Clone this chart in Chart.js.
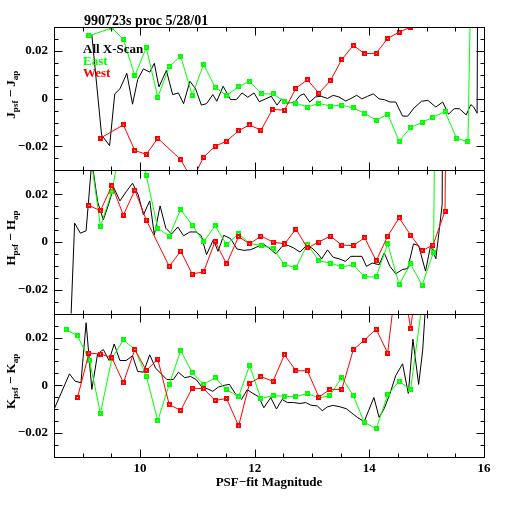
<!DOCTYPE html>
<html><head><meta charset="utf-8">
<script src="https://cdn.jsdelivr.net/npm/chart.js@4.4.1/dist/chart.umd.min.js"></script>
<style>html,body{margin:0;padding:0;background:#fff;}#wrap{width:512px;height:512px;position:relative;}</style>
</head><body><div id="wrap"><canvas id="c"></canvas></div>
<script>
// ---------- text ----------
const chartTitle = "990723s proc 5/28/01";
const seriesNames = ["All X-Scan", "East", "West"];
const xTitle = "PSF\u2212fit Magnitude";
const panelLetters = ["J", "H", "K"];
const xTickValues = [10, 12, 14, 16];
const yTickValues = [-0.02, 0, 0.02];

// ---------- J panel ----------
const jAllX = [9.16,9.33,9.47,9.56,9.65,9.77,9.87,9.96,10.06,10.17,10.25,10.33,10.46,10.57,10.67,10.76,10.87,10.97,11.07,11.16,11.27,11.34,11.45,11.58,11.68,11.78,11.88,11.99,12.08,12.19,12.29,12.39,12.47,12.57,12.70,12.79,12.86,12.96,13.06,13.16,13.27,13.37,13.47,13.59,13.68,13.78,13.87,13.97,14.07,14.17,14.26,14.36,14.46,14.58,14.67,14.78,14.91,15.02,15.16,15.28,15.38,15.48,15.57,15.69,15.77,15.82,15.88,15.93];
const jAllY = [0.0267,-0.0152,-0.0197,0.0020,0.0041,0.0106,-0.0023,0.0080,0.0125,0.0111,0.0148,0.0049,0.0118,0.0017,0.0024,-0.0021,0.0073,0.0041,-0.0027,-0.0021,0.0017,-0.0011,0.0052,-0.0004,-0.0004,0.0024,0.0006,0.0024,-0.0013,-0.0001,0.0010,-0.0027,-0.0001,-0.0018,-0.0015,0.0013,0.0020,-0.0014,0.0007,0.0010,0.0001,0.0014,0.0007,-0.0010,0.0001,0.0014,-0.0001,0.0010,0.0020,-0.0001,-0.0004,-0.0014,-0.0014,-0.0073,-0.0073,-0.0039,-0.0011,-0.0007,-0.0035,-0.0014,-0.0065,-0.0042,-0.0042,-0.0068,-0.0025,-0.0035,-0.0061,0.3];
const jEastX = [9.11,9.51,9.71,9.91,10.11,10.31,10.51,10.71,10.91,11.11,11.31,11.51,11.72,11.91,12.12,12.32,12.52,12.72,12.92,13.12,13.32,13.52,13.72,13.92,14.12,14.32,14.52,14.72,14.92,15.11,15.32,15.52,15.72,15.92];
const jEastY = [0.0263,0.0296,0.0248,0.0096,0.0213,0.0006,0.0134,0.0178,0.0014,0.0144,0.0048,0.0013,0.0051,0.0072,0.0020,0.0020,-0.0013,-0.0019,-0.0035,-0.0020,-0.0031,-0.0027,-0.0039,-0.0062,-0.0090,-0.0065,-0.0178,-0.0121,-0.0099,-0.0078,-0.0054,-0.0165,-0.0181,0.25];
const jWestX = [9.31,9.71,9.91,10.11,10.31,10.71,10.91,11.11,11.31,11.51,11.72,11.91,12.11,12.31,12.52,12.72,12.92,13.12,13.32,13.52,13.72,13.92,14.12,14.32,14.52,14.72,14.92];
const jWestY = [-0.0165,-0.0110,-0.0217,-0.0233,-0.0166,-0.0255,-0.0340,-0.0245,-0.0199,-0.0178,-0.0134,-0.0110,-0.0132,-0.0045,-0.0048,0.0044,0.0079,0.0023,0.0075,0.0164,0.0223,0.0188,0.0190,0.0252,0.0279,0.0299,0.0340];

// ---------- H panel ----------
const hAllX = [8.75,8.86,8.96,9.06,9.16,9.26,9.36,9.45,9.54,9.65,9.76,9.87,9.97,10.06,10.17,10.25,10.35,10.45,10.55,10.66,10.76,10.87,10.98,11.07,11.16,11.28,11.36,11.46,11.58,11.69,11.81,11.93,12.03,12.14,12.25,12.37,12.48,12.59,12.68,12.79,12.89,13.00,13.09,13.17,13.27,13.37,13.47,13.58,13.68,13.78,13.87,13.95,14.05,14.17,14.26,14.36,14.46,14.58,14.67,14.77,14.86,14.98,15.07,15.16,15.22,15.27,15.32];
const hAllY = [-0.06,0.0079,0.0037,0.0047,0.034,0.0169,0.0093,0.0156,0.0229,0.0172,0.0211,0.0246,0.0197,0.0114,0.0172,0.0030,0.0151,0.0058,0.0033,0.0063,0.0026,0.0042,0.0042,0.0026,-0.0053,0.0010,-0.0039,0.0028,0.0014,-0.0029,-0.0035,-0.0032,-0.0022,-0.0007,-0.0025,-0.0050,-0.0018,-0.0015,-0.0025,-0.0042,-0.0018,-0.0025,-0.0046,-0.0070,-0.0033,-0.0064,-0.0070,-0.0081,-0.0060,-0.0060,-0.0060,-0.0102,-0.0088,-0.0095,-0.0046,-0.0102,-0.0133,-0.0115,-0.0111,-0.0008,-0.0015,-0.0122,-0.0014,-0.0070,0.0051,0.0156,0.3];
const hEastX = [9.11,9.31,9.51,9.71,9.91,10.11,10.31,10.51,10.71,10.91,11.11,11.31,11.51,11.72,11.91,12.12,12.32,12.52,12.72,12.92,13.12,13.32,13.52,13.72,13.92,14.12,14.32,14.52,14.72,14.92,15.12,15.32];
const hEastY = [0.041,0.0065,0.0211,0.047,0.048,0.0278,0.0058,0.0025,0.0136,0.0071,0.0001,0.0068,-0.0011,0.0035,-0.0006,-0.0015,-0.0027,-0.0095,-0.0107,-0.0010,-0.0079,-0.0088,-0.0104,-0.0096,-0.0146,-0.0146,-0.0008,-0.0178,-0.0092,-0.0181,-0.0042,0.5];
const hWestX = [9.11,9.31,9.51,9.71,9.91,10.11,10.51,10.71,10.91,11.11,11.31,11.51,11.72,11.91,12.11,12.32,12.52,12.72,12.92,13.12,13.32,13.52,13.72,13.92,14.12,14.32,14.52,14.72,14.92,15.11,15.32,15.52];
const hWestY = [0.0153,0.0131,0.0236,0.0113,0.0217,0.0092,-0.0102,-0.0038,-0.0134,-0.0125,0.0003,-0.0092,0.0023,-0.0008,0.0025,0.0000,-0.0008,0.0054,-0.0025,0.0000,0.0025,-0.0013,-0.0015,0.0018,-0.0079,0.0025,0.0101,0.0029,-0.0036,-0.0013,0.0129,0.5];

// ---------- K panel ----------
const kAllX = [8.50,8.77,8.87,8.97,9.06,9.16,9.26,9.36,9.46,9.55,9.65,9.76,9.87,9.96,10.06,10.17,10.27,10.37,10.47,10.58,10.67,10.78,10.88,10.98,11.08,11.17,11.27,11.37,11.47,11.56,11.66,11.77,11.87,11.97,12.07,12.16,12.28,12.38,12.48,12.57,12.68,12.79,12.89,12.98,13.09,13.18,13.27,13.37,13.49,13.60,13.70,13.79,13.91,13.99,14.08,14.17,14.26,14.37,14.46,14.58,14.68,14.76,14.86,14.93,15.05];
const kAllY = [-0.0101,0.0048,0.0017,0.0011,0.0262,-0.0017,0.0131,0.0150,0.0104,0.0173,0.0104,0.0104,0.0124,0.0058,0.0055,0.0128,0.0073,0.0048,0.0024,0.0024,0.0055,0.0032,0.0037,0.0024,-0.0007,-0.0014,-0.0025,-0.0007,0.0000,0.0004,-0.0034,-0.0059,-0.0018,-0.0034,-0.0048,-0.0094,-0.0051,-0.0099,-0.0059,-0.0072,-0.0072,-0.0076,-0.0072,-0.0083,-0.0086,-0.0106,-0.0090,-0.0084,-0.0090,-0.0098,-0.0117,-0.0134,-0.0152,-0.0104,-0.0051,-0.0134,-0.0097,-0.0028,0.0041,0.0090,-0.0034,0.0193,0.0004,0.0145,0.06];
const kEastX = [8.71,8.91,9.12,9.31,9.51,9.71,9.91,10.11,10.31,10.51,10.71,10.91,11.11,11.31,11.51,11.72,11.91,12.11,12.32,12.52,12.72,12.92,13.12,13.31,13.52,13.72,13.91,14.12,14.32,14.52,14.72,14.92,15.12];
const kEastY = [0.0235,0.0207,0.0104,-0.0117,0.0113,0.0190,0.0150,0.0039,-0.0148,0.0004,0.0145,0.0053,0.0004,0.0032,-0.0018,-0.0048,0.0083,-0.0055,-0.0043,-0.0046,-0.0047,-0.0034,-0.0053,-0.0043,0.0033,-0.0043,-0.0154,-0.0182,-0.0039,0.0017,-0.0018,0.034,0.06];
const kWestX = [8.91,9.11,9.31,9.51,9.71,9.91,10.11,10.31,10.51,10.71,10.91,11.11,11.31,11.51,11.72,11.91,12.11,12.32,12.52,12.72,12.92,13.12,13.31,13.52,13.72,13.91,14.12,14.32,14.52,14.72,14.92];
const kWestY = [-0.0051,0.0135,0.0131,0.0115,0.0011,0.0150,0.0062,0.0110,-0.0081,-0.0105,-0.0012,-0.0014,-0.0063,-0.0055,-0.0170,0.0008,0.0036,0.0017,0.0128,0.0061,0.0061,-0.0050,-0.0017,-0.0017,0.0149,0.0189,0.0235,0.0135,0.055,0.0237,0.06];

// ---------- styling ----------
const FONT = "'Liberation Serif','DejaVu Serif',serif";
const colors = ["#000000", "#00ff00", "#ff0000"];

function marker(color) {
  const c = document.createElement('canvas');
  c.width = 5; c.height = 5;
  const g = c.getContext('2d');
  g.fillStyle = color; g.fillRect(0, 0, 5, 5);
  g.fillStyle = '#ffffff'; g.fillRect(2, 2, 1, 1);
  return c;
}
const pts = (xs, ys) => xs.map((x, i) => ({x: x, y: ys[i]}));

function line(label, xs, ys, axis, ci, withMarker) {
  return {
    label: label, data: pts(xs, ys), yAxisID: axis,
    borderColor: colors[ci], backgroundColor: colors[ci], borderWidth: 1,
    pointStyle: withMarker ? marker(colors[ci]) : 'circle',
    pointRadius: withMarker ? 3 : 0, tension: 0, order: 2 - ci
  };
}

const datasets = [
  line(seriesNames[0], jAllX, jAllY, 'yJ', 0, false),
  line(seriesNames[1], jEastX, jEastY, 'yJ', 1, true),
  line(seriesNames[2], jWestX, jWestY, 'yJ', 2, true),
  line(seriesNames[0], hAllX, hAllY, 'yH', 0, false),
  line(seriesNames[1], hEastX, hEastY, 'yH', 1, true),
  line(seriesNames[2], hWestX, hWestY, 'yH', 2, true),
  line(seriesNames[0], kAllX, kAllY, 'yK', 0, false),
  line(seriesNames[1], kEastX, kEastY, 'yK', 1, true),
  line(seriesNames[2], kWestX, kWestY, 'yK', 2, true)
];

const fmt = v => Math.abs(v) < 1e-9 ? '0' : (v < 0 ? '\u2212' : '') + Math.abs(v).toFixed(2);

function panelScale() {
  return {
    type: 'linear', position: 'left', stack: 'panels', stackWeight: 1,
    min: -0.03, max: 0.03,
    grid: {display: false, drawTicks: false}, border: {display: false},
    ticks: {padding: 6, color: '#000', font: {family: FONT, size: 13, weight: 'bold'}, callback: v => fmt(v)},
    afterBuildTicks: s => { s.ticks = yTickValues.map(v => ({value: v})); },
    afterFit: s => { s.width = 54; }
  };
}

const framePlugin = {
  id: 'frame',
  beforeDatasetDraw(chart, args) {
    const ds = chart.data.datasets[args.index];
    const ys = chart.scales[ds.yAxisID];
    const ca = chart.chartArea, ctx = chart.ctx;
    ctx.save();
    ctx.beginPath();
    ctx.rect(ca.left, ys.top, ca.right - ca.left, ys.bottom - ys.top);
    ctx.clip();
  },
  afterDatasetDraw(chart) { chart.ctx.restore(); },
  afterDraw(chart) {
    const ctx = chart.ctx, ca = chart.chartArea, xs = chart.scales.x;
    ctx.save();
    ctx.strokeStyle = '#000'; ctx.lineWidth = 1;
    ['yJ', 'yH', 'yK'].forEach((id, p) => {
      const ys = chart.scales[id];
      const L = Math.round(ca.left) + 0.5, R = Math.round(ca.right) + 0.5;
      const T = Math.round(ys.top) + 0.5, B = Math.round(ys.bottom) + 0.5;
      ctx.strokeRect(L, T, R - L, B - T);
      ctx.beginPath();
      for (let k = -5; k <= 5; k++) {
        const v = k * 0.005;
        const y = Math.round(ys.getPixelForValue(v)) + 0.5;
        const len = (k % 4 === 0) ? 8 : 4;
        ctx.moveTo(L, y); ctx.lineTo(L + len, y);
        ctx.moveTo(R, y); ctx.lineTo(R - len, y);
      }
      for (let k = 17; k <= 31; k++) {
        const v = k * 0.5;
        const x = Math.round(xs.getPixelForValue(v)) + 0.5;
        const len = (v % 2 === 0) ? 8 : 4;
        ctx.moveTo(x, B); ctx.lineTo(x, B - len);
        ctx.moveTo(x, T); ctx.lineTo(x, T + len);
      }
      ctx.stroke();
      // rotated axis title with subscripts
      const cy = (ys.top + ys.bottom) / 2 - 4;
      const big = 'bold 13px ' + FONT, small = 'bold 9px ' + FONT;
      const letter = panelLetters[p];
      const parts = [[letter, big, 0], ['psf', small, 3], [' \u2212 ' + letter, big, 0], ['ap', small, 3]];
      let total = 0;
      parts.forEach(pt => { ctx.font = pt[1]; total += ctx.measureText(pt[0]).width; });
      ctx.save();
      ctx.translate(15, cy);
      ctx.rotate(-Math.PI / 2);
      ctx.fillStyle = '#000'; ctx.textBaseline = 'alphabetic'; ctx.textAlign = 'left';
      let cx = -total / 2;
      parts.forEach(pt => { ctx.font = pt[1]; ctx.fillText(pt[0], cx, pt[2]); cx += ctx.measureText(pt[0]).width; });
      ctx.restore();
    });
    // title
    ctx.fillStyle = '#000';
    ctx.font = 'bold 14px ' + FONT;
    ctx.textAlign = 'left'; ctx.textBaseline = 'alphabetic';
    ctx.fillText(chartTitle, 84, 25);
    // legend
    ctx.font = 'bold 13px ' + FONT;
    const ly = [53, 65, 77];
    seriesNames.forEach((n, i) => { ctx.fillStyle = colors[i]; ctx.fillText(n, 83, ly[i]); });
    ctx.restore();
  }
};

new Chart(document.getElementById('c'), {
  type: 'line',
  data: {datasets: datasets},
  options: {
    responsive: true, maintainAspectRatio: false, animation: false,
    layout: {padding: {top: 27, right: 28, left: 0, bottom: 0}},
    plugins: {legend: {display: false}, tooltip: {enabled: false}},
    scales: {
      x: {
        type: 'linear', position: 'bottom', min: 8.5, max: 16,
        grid: {display: false, drawTicks: false}, border: {display: false},
        ticks: {padding: 4, color: '#000', autoSkip: false, maxRotation: 0, font: {family: FONT, size: 13, weight: 'bold'}, callback: v => String(v)},
        afterBuildTicks: s => { s.ticks = xTickValues.map(v => ({value: v})); },
        title: {display: true, text: xTitle, color: '#000', font: {family: FONT, size: 13, weight: 'bold'}, padding: {top: 0, bottom: 22}},
        afterFit: s => { s.height = 55; }
      },
      yK: panelScale(),
      yH: panelScale(),
      yJ: panelScale()
    }
  },
  plugins: [framePlugin]
});
</script></body></html>
